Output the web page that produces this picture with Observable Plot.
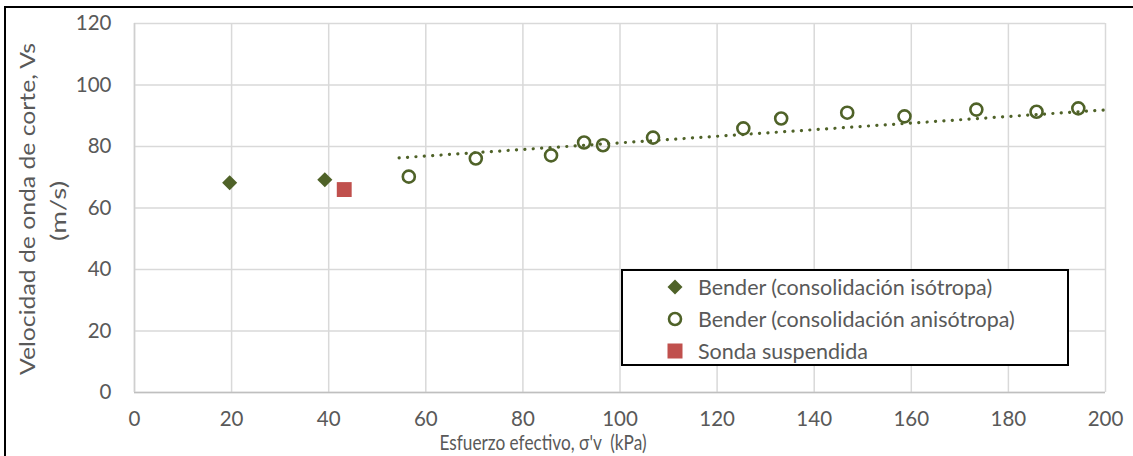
<!DOCTYPE html>
<html>
<head>
<meta charset="utf-8">
<script src="https://cdn.jsdelivr.net/npm/d3@7"></script>
<script src="https://cdn.jsdelivr.net/npm/@observablehq/plot@0.6"></script>
<style>
  html, body { margin: 0; padding: 0; background: #fff; }
  #wrap { position: relative; width: 1133px; height: 456px; overflow: hidden; font-family: Lato, "Open Sans", sans-serif; }
  #frame { position: absolute; left: 4px; top: 6px; width: 1140px; height: 460px; border-left: 2px solid #000; border-top: 2px solid #000; box-sizing: border-box; pointer-events: none; }
  #legend { position: absolute; left: 621px; top: 269px; width: 448px; height: 97px; border: 2px solid #000; box-sizing: border-box; background: #fff; }
  .row { position: absolute; left: 0; height: 32px; display: flex; align-items: center; color: #595959; font-size: 21.5px; }
  .row svg { position: absolute; left: 42px; }
  .row span { position: absolute; left: 75px; white-space: nowrap; }
</style>
</head>
<body>
<div id="wrap">
  <div id="chart"></div>
  <div id="frame"></div>
  <div id="legend"></div>
</div>
<script>
// Data
const isoX = [19.6, 39.2];
const isoY = [68.2, 69.2];

const anisoX = [56.5, 70.3, 85.8, 92.6, 96.5, 106.8, 125.4, 133.2, 146.8, 158.6, 173.4, 185.8, 194.4];
const anisoY = [70.2, 76.1, 77.1, 81.3, 80.4, 82.9, 85.9, 89.1, 91.0, 89.8, 92.0, 91.3, 92.4];

const sondaX = [43.2];
const sondaY = [66.0];

// Dotted trend line endpoints (as drawn in the reference)
const trendX = [54.5, 200];
const trendY = [76.3, 91.9];

const xTicks = [0, 20, 40, 60, 80, 100, 120, 140, 160, 180, 200];
const yTicks = [0, 20, 40, 60, 80, 100, 120];

const seriesNames = ["Bender (consolidación isótropa)", "Bender (consolidación anisótropa)", "Sonda suspendida"];
const xTitle = "Esfuerzo efectivo, σ'v  (kPa)";
const yTitle1 = "Velocidad de onda de corte, Vs";
const yTitle2 = "(m/s)";

const olive = "#4F6228";
const red = "#C0504D";
const textGray = "#595959";

const iso = isoX.map((x, i) => ({x, y: isoY[i]}));
const aniso = anisoX.map((x, i) => ({x, y: anisoY[i]}));
const sonda = sondaX.map((x, i) => ({x, y: sondaY[i]}));
const trend = trendX.map((x, i) => ({x, y: trendY[i]}));

const plot = Plot.plot({
  width: 1133,
  height: 456,
  marginLeft: 134,
  marginRight: 28,
  marginTop: 23,
  marginBottom: 64,
  style: {fontFamily: "Lato, 'Open Sans', sans-serif", color: textGray, background: "transparent"},
  x: {domain: [0, 200], ticks: xTicks},
  y: {domain: [0, 120], ticks: yTicks},
  marks: [
    Plot.gridX(xTicks, {stroke: "#d9d9d9", strokeOpacity: 1, strokeWidth: 1.5}),
    Plot.gridY(yTicks, {stroke: "#d9d9d9", strokeOpacity: 1, strokeWidth: 1.5}),
    Plot.ruleY([0], {stroke: "#bfbfbf", strokeWidth: 1.5}),
    Plot.ruleX([0], {stroke: "#cfcfcf", strokeWidth: 1.5}),
    Plot.axisX(xTicks, {tickSize: 0, tickPadding: 19, fontSize: 20.5, fill: textGray, label: null}),
    Plot.axisY(yTicks, {tickSize: 0, tickPadding: 23, fontSize: 20.5, fill: textGray, label: null}),
    Plot.line(trend, {x: "x", y: "y", stroke: olive, strokeWidth: 3.2, strokeDasharray: "0.1,8.3", strokeLinecap: "round"}),
    Plot.dot(aniso, {x: "x", y: "y", r: 6, stroke: olive, strokeWidth: 2.6, fill: "none", symbol: "circle"}),
    Plot.dot(iso, {x: "x", y: "y", r: 6.8, fill: olive, symbol: "diamond2"}),
    Plot.dot(sonda, {x: "x", y: "y", r: 8.4, fill: red, symbol: "square"})
  ]
});

document.getElementById("chart").appendChild(plot);

// Axis titles
const svg = d3.select(plot);
svg.append("text")
  .attr("x", 543).attr("y", 444)
  .attr("text-anchor", "middle").attr("dominant-baseline", "middle")
  .attr("fill", textGray).attr("font-size", 22)
  .attr("textLength", 207).attr("lengthAdjust", "spacingAndGlyphs")
  .text(xTitle);
svg.append("text")
  .attr("transform", "translate(29,209) rotate(-90)")
  .attr("text-anchor", "middle").attr("dominant-baseline", "middle")
  .attr("fill", textGray).attr("font-size", 22)
  .attr("textLength", 332).attr("lengthAdjust", "spacingAndGlyphs")
  .text(yTitle1);
svg.append("text")
  .attr("transform", "translate(60,211) rotate(-90)")
  .attr("text-anchor", "middle").attr("dominant-baseline", "middle")
  .attr("fill", textGray).attr("font-size", 22)
  .attr("textLength", 60).attr("lengthAdjust", "spacingAndGlyphs")
  .text(yTitle2);

// Legend
const legend = document.getElementById("legend");
const markers = [
  `<svg width="20" height="20" viewBox="-10 -10 20 20"><path d="M0,-7.5L7.5,0L0,7.5L-7.5,0Z" fill="${olive}"/></svg>`,
  `<svg width="20" height="20" viewBox="-10 -10 20 20"><circle r="6" fill="none" stroke="${olive}" stroke-width="2.6"/></svg>`,
  `<svg width="20" height="20" viewBox="-10 -10 20 20"><rect x="-7.5" y="-7.5" width="15" height="15" fill="${red}"/></svg>`
];
seriesNames.forEach((name, i) => {
  const row = document.createElement("div");
  row.className = "row";
  row.style.top = (0 + i * 32) + "px";
  row.style.width = "440px";
  row.innerHTML = markers[i] + `<span>${name}</span>`;
  legend.appendChild(row);
});
</script>
</body>
</html>
